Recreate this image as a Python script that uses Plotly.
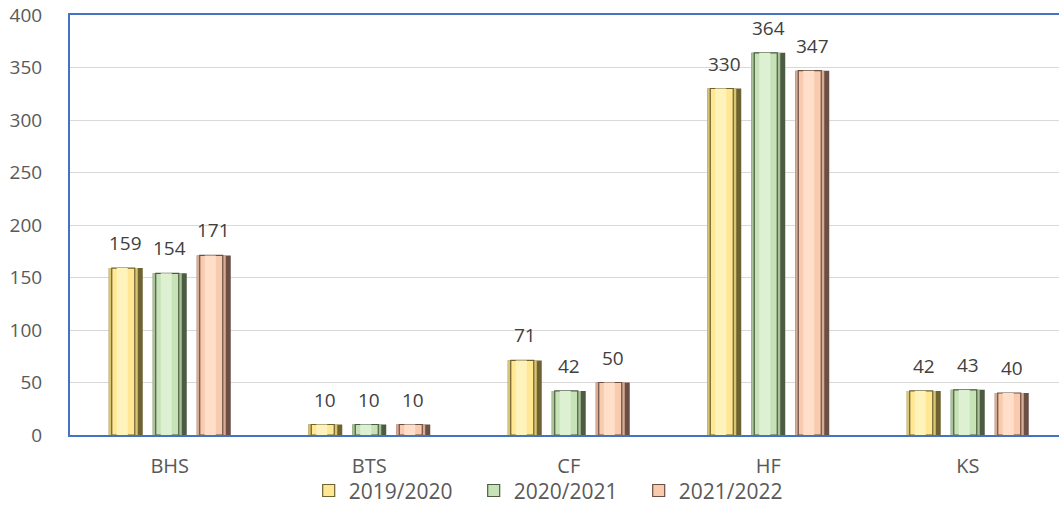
import plotly.graph_objects as go

categories = ["BHS", "BTS", "CF", "HF", "KS"]
series_names = ["2019/2020", "2020/2021", "2021/2022"]
values_2019 = [159, 10, 71, 330, 42]
values_2020 = [154, 10, 42, 364, 43]
values_2021 = [171, 10, 50, 347, 40]
y_ticks = [0, 50, 100, 150, 200, 250, 300, 350, 400]

all_values = [values_2019, values_2020, values_2021]

# colour tones per series: dark edge, left tone, main, highlight
tones = [
    ("#6E6233", "#D8C572", "#FFE793", "#FFF3BC"),
    ("#4C5C42", "#A8C398", "#C8E2B7", "#DDF0D1"),
    ("#6B4F44", "#D8AB92", "#F9CBAE", "#FFDECA"),
]

PX = 199.5  # pixels per category
bar_w = 34 / PX
slot = 44 / PX
centers = [-slot, 0.0, slot]

fig = go.Figure()
for i, (name, vals) in enumerate(zip(series_names, all_values)):
    dark, left, main, hi = tones[i]
    left_edge = centers[i] - bar_w / 2
    layers = [
        (0, 34, dark, False),
        (0, 29, left, False),
        (3, 26, main, True),
        (8, 19, hi, False),
    ]
    for a, b, col, leg in layers:
        fig.add_trace(go.Bar(
            x=categories, y=vals, name=name,
            offset=left_edge + a / PX, width=(b - a) / PX,
            marker=dict(color=col, line=dict(width=1.2, color=dark) if leg else dict(width=0)),
            showlegend=leg, hoverinfo="skip",
        ))
    for j, v in enumerate(vals):
        fig.add_annotation(
            x=j + centers[i], y=v, text=str(v), showarrow=False,
            xref="x", yref="y", yanchor="bottom", yshift=10,
            font=dict(size=19, color="#404040"),
        )

fig.update_layout(
    barmode="overlay",
    width=1059, height=506,
    margin=dict(l=70, r=0, t=15, b=71, autoexpand=False),
    plot_bgcolor="white", paper_bgcolor="white",
    font=dict(family="Open Sans", size=19, color="#595959"),
    legend=dict(orientation="h", x=0.4916, xanchor="center", y=-0.133, yanchor="middle",
                font=dict(size=21, color="#595959"), traceorder="normal",
                itemwidth=30, entrywidth=120, bgcolor="rgba(0,0,0,0)"),
)
fig.update_xaxes(
    type="category", range=[-0.5, -0.5 + 989 / PX],
    showline=True, linecolor="#4472C4", linewidth=2, mirror=True,
    showgrid=False, ticks="", ticklabelstandoff=12,
    tickfont=dict(size=20, color="#595959"),
)
fig.update_yaxes(
    range=[0, 400], tickvals=y_ticks,
    showline=True, linecolor="#4472C4", linewidth=2,
    showgrid=True, gridcolor="#D9D9D9", gridwidth=1,
    zeroline=False, ticks="", ticklabelstandoff=22,
    tickfont=dict(size=19, color="#595959"),
)

fig.write_html("out.html")
